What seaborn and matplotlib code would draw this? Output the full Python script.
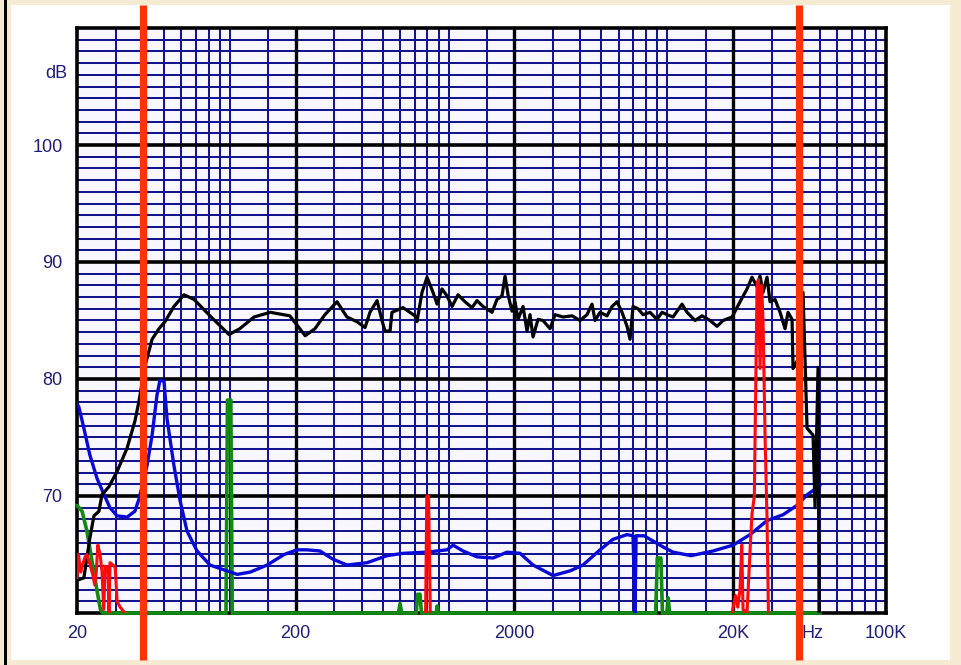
import matplotlib
matplotlib.use("Agg")
import matplotlib.pyplot as plt
import matplotlib.patches as mpatches
import seaborn as sns
import pandas as pd
import numpy as np

# ---------------- data (Hz, dB) ----------------
freq_black = [20, 21.5, 22.9, 23.9, 25.2, 26.0, 28.0, 30.5, 33.9, 36.8, 38.4, 40.9, 44.1, 47.4, 50.5,
              55.5, 61.7, 68.6, 81.1, 99.1, 111, 129, 153, 188, 221, 245, 272, 309, 343, 381, 415,
              437, 471, 496, 512, 540, 551, 619, 702, 717, 756, 797, 849, 886, 933, 984, 1037, 1105,
              1189, 1280, 1349, 1437, 1580, 1665, 1755, 1812, 1870, 1950, 2013, 2078, 2190, 2284,
              2357, 2433, 2565, 2703, 2910, 3067, 3336, 3668, 3991, 4295, 4528, 4673, 4925, 5302,
              5590, 5893, 6210, 6546, 6757, 6973, 7350, 7746, 8337, 8974, 9462, 9974, 10623, 11681,
              12311, 13394, 14416, 15686, 16883, 17982, 19770, 21508, 23150, 24402, 25724, 26548,
              27400, 28576, 29492, 31092, 32776, 34548, 35656, 37190, 37580, 40454, 41750, 42640,
              43552, 46392, 47380, 48900, 49420]
db_black = [62.8, 63.0, 66.4, 68.3, 68.7, 70.1, 70.8, 72.1, 74.1, 76.4, 78.1, 81.1, 83.4, 84.3, 84.9,
            86.2, 87.2, 86.8, 85.4, 83.8, 84.3, 85.3, 85.7, 85.4, 83.7, 84.3, 85.5, 86.6, 85.3, 84.9,
            84.4, 85.7, 86.7, 85.0, 84.1, 84.1, 85.7, 86.1, 85.4, 84.9, 87.4, 88.7, 87.4, 86.4, 87.7,
            87.1, 86.2, 87.2, 86.6, 86.1, 86.7, 86.2, 85.7, 86.8, 87.1, 88.8, 87.2, 85.8, 86.6, 85.1,
            86.2, 84.1, 85.5, 83.6, 85.1, 85.0, 84.3, 85.5, 85.3, 85.4, 85.0, 85.5, 86.4, 85.0, 85.7,
            85.4, 86.2, 86.6, 85.7, 84.5, 83.4, 86.2, 86.0, 85.5, 85.7, 85.1, 85.7, 85.5, 85.3, 86.4,
            85.7, 85.0, 85.4, 85.0, 84.5, 85.0, 85.3, 86.6, 87.7, 88.7, 87.9, 88.8, 87.4, 88.7, 86.6,
            86.8, 85.7, 84.3, 85.7, 85.1, 80.9, 82.0, 87.4, 81.7, 75.8, 75.2, 69.0, 81.0, 60.0]

freq_blue = [20, 20.4, 21.5, 22.9, 24.7, 26.6, 28.3, 30.5, 33.9, 36.8, 38.5, 41.8, 44.1, 46.4, 47.9,
             50.0, 51.6, 55.5, 59.2, 63.7, 70.8, 81.1, 97, 108, 124, 148, 177, 203, 225, 258, 296,
             343, 424, 523, 619, 797, 984, 1048, 1164, 1349, 1597, 1850, 2122, 2433, 3004, 3592,
             4118, 4925, 5650, 6546, 6973, 7118, 7200, 7828, 9662, 10623, 12841, 16190, 19980,
             23900, 28576, 33830, 39200, 43552, 49940]
db_blue = [77.9, 77.6, 75.8, 73.5, 71.5, 70.1, 69.0, 68.3, 68.2, 68.7, 69.8, 72.6, 75.2, 78.6, 79.9,
           79.8, 76.6, 72.6, 69.6, 67.0, 65.3, 64.1, 63.6, 63.3, 63.5, 64.1, 65.0, 65.4, 65.4, 65.3,
           64.6, 64.1, 64.3, 64.9, 65.1, 65.2, 65.4, 65.8, 65.3, 64.8, 64.7, 65.2, 65.1, 64.1, 63.2,
           63.6, 64.1, 65.4, 66.3, 66.7, 66.6, 60.0, 66.6, 66.6, 65.6, 65.2, 64.9, 65.3, 65.8, 66.7,
           67.9, 68.4, 69.2, 70.1, 70.9]

freq_red_low = [20, 20.3, 20.8, 21.1, 21.8, 22.2, 22.9, 23.6, 24.1, 24.5, 24.9, 25.5, 26.0, 26.5,
                26.9, 27.7, 28.0, 28.3, 29.2, 29.9, 30.5, 31.5, 33.1]
db_red_low = [63.0, 65.0, 63.5, 64.0, 64.8, 65.0, 64.2, 63.3, 62.4, 63.5, 65.8, 65.0, 63.6, 60.3,
              64.0, 63.9, 60.0, 64.3, 64.1, 63.9, 61.0, 60.5, 60.0]
freq_red_mid = [785, 795, 810, 825]
db_red_mid = [60.0, 70.0, 70.0, 60.0]
freq_red_high = [19770, 20500, 21000, 21500, 21900, 22200, 23150, 24000, 24402, 25000, 25400,
                 25724, 26100, 26548, 27000, 27400, 28000, 28576, 29000]
db_red_high = [60.0, 61.5, 60.5, 62.0, 65.8, 60.3, 60.0, 66.0, 68.5, 70.0, 80.0, 88.0, 88.5, 80.9,
               88.0, 85.0, 75.0, 68.0, 60.0]

freq_green = [20, 21.1, 22.2, 23.4, 24.7, 25.6, 26.2, 96, 97.5, 101, 102.5, 590, 600, 610, 712, 722,
              740, 752, 878, 886, 895, 8850, 9000, 9350, 9500, 9950, 10080, 10250, 50000]
db_green = [69.2, 68.7, 67.0, 64.5, 61.9, 60.3, 60.0, 60.0, 78.2, 78.2, 60.0, 60.0, 60.8, 60.0, 60.0,
            61.6, 61.6, 60.0, 60.0, 60.6, 60.0, 60.0, 64.7, 64.7, 60.0, 60.0, 61.3, 60.0, 60.0]

marker_freqs = [40, 40000]

y_labels = [70, 80, 90, 100]
x_tick_pos = [20, 200, 2000, 20000, 46000, 100000]
x_tick_txt = ["20", "200", "2000", "20K", "Hz", "100K"]

grid_minor_x = [30, 40, 50, 60, 70, 80, 90, 100, 150, 300, 400, 500, 600, 700, 800, 900, 1000, 1500,
                3000, 4000, 5000, 6000, 7000, 8000, 9000, 10000, 15000, 30000, 40000, 50000, 60000,
                70000, 80000, 90000]
grid_major_x = [200, 2000, 20000]
grid_minor_y = [v for v in range(61, 110) if v % 10 != 0]
grid_major_y = [70, 80, 90, 100]

# ---------------- figure ----------------
sns.set_style("white")
plt.rcParams["font.family"] = ["Liberation Sans", "DejaVu Sans"]

W, H = 961, 665
fig = plt.figure(figsize=(W / 100, H / 100), dpi=100, facecolor="#F6EAD2")
# white panel and left black rule
fig.patches.append(mpatches.Rectangle((11 / W, 1 - 660 / H), (950 - 11) / W, (660 - 5) / H,
                                      transform=fig.transFigure, facecolor="white",
                                      edgecolor="none", zorder=-10))
fig.patches.append(mpatches.Rectangle((4 / W, 0), 3 / W, 1, transform=fig.transFigure,
                                      facecolor="black", edgecolor="none", zorder=-10))

ax_l, ax_r, ax_t, ax_b = 77, 886, 28, 613
ax = fig.add_axes([ax_l / W, 1 - ax_b / H, (ax_r - ax_l) / W, (ax_b - ax_t) / H])
ax.set_zorder(1)
ax.set_facecolor("#F8F6FF")
ax.set_xscale("log")
ax.set_xlim(20, 100000)
ax.set_ylim(60, 110)

navy = "#14148C"
for gx in grid_minor_x:
    ax.axvline(gx, color=navy, lw=1.45, zorder=1)
for gy in grid_minor_y:
    ax.axhline(gy, color=navy, lw=1.45, zorder=1)
for gx in grid_major_x:
    ax.axvline(gx, color="black", lw=2.4, zorder=1.2)
for gy in grid_major_y:
    ax.axhline(gy, color="black", lw=2.6, zorder=1.2)

def seg_df(f, d):
    return pd.DataFrame({"freq": f, "db": d})

sns.lineplot(data=seg_df(freq_green, db_green), x="freq", y="db", ax=ax, color="#118A11",
             lw=2.6, sort=False, estimator=None, zorder=3, clip_on=False)
sns.lineplot(data=seg_df(freq_blue, db_blue), x="freq", y="db", ax=ax, color="#0A0AD8",
             lw=2.4, sort=False, estimator=None, zorder=4)
sns.lineplot(data=seg_df(freq_black, db_black), x="freq", y="db", ax=ax, color="black",
             lw=2.3, sort=False, estimator=None, zorder=5)
red_df = pd.concat([
    seg_df(freq_red_low, db_red_low).assign(seg=0),
    seg_df(freq_red_mid, db_red_mid).assign(seg=1),
    seg_df(freq_red_high, db_red_high).assign(seg=2),
])
sns.lineplot(data=red_df, x="freq", y="db", units="seg", ax=ax, color="#FF0A0A", lw=2.2,
             sort=False, estimator=None, zorder=6)

for mf in marker_freqs:
    ax.axvline(mf, ymin=(613 - 660) / 585, ymax=(613 - 5) / 585, color="#FF3300", lw=5.2,
               zorder=10, clip_on=False, solid_capstyle="butt")

for s in ax.spines.values():
    s.set_color("black")
    s.set_linewidth(2.6)
    s.set_zorder(2.5)

txt_color = "#1E1E78"
ax.set_yticks(y_labels)
ax.set_yticklabels([str(v) for v in y_labels], fontsize=13, color=txt_color)
ax.set_xticks(x_tick_pos)
ax.set_xticklabels(x_tick_txt, fontsize=13, color=txt_color)
ax.xaxis.set_minor_locator(matplotlib.ticker.NullLocator())
ax.tick_params(axis="both", length=0)
ax.tick_params(axis="y", pad=10.5)
ax.tick_params(axis="x", pad=9)
ax.set_xlabel("")
ax.set_ylabel("")
ax.text(-0.026, (613 - 74) / 585, "dB", transform=ax.transAxes, ha="center", va="center",
        fontsize=13, color=txt_color)

fig.savefig("out.png", dpi=100, facecolor=fig.get_facecolor())
